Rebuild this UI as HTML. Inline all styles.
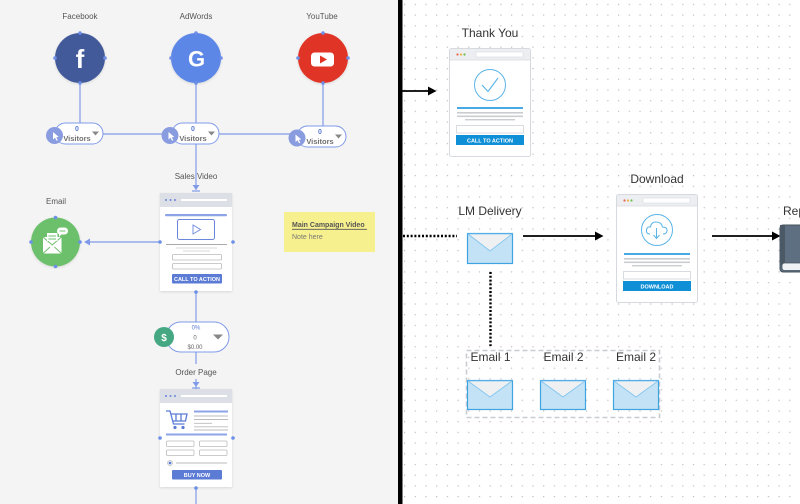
<!DOCTYPE html>
<html><head><meta charset="utf-8">
<style>
html,body{margin:0;padding:0;width:800px;height:504px;overflow:hidden;background:#fff;}
svg{display:block;}
text{font-family:"Liberation Sans",Arial,sans-serif;}
</style></head>
<body>
<svg width="800" height="504" viewBox="0 0 800 504" xmlns="http://www.w3.org/2000/svg">
<defs>
<pattern id="dots" x="404" y="68" width="10.7" height="10.7" patternUnits="userSpaceOnUse">
<circle cx="0.6" cy="0.6" r="0.7" fill="#bdbdbd"/>
</pattern>
<filter id="sh" x="-20%" y="-20%" width="140%" height="140%"><feDropShadow dx="0" dy="1" stdDeviation="1.2" flood-color="#000" flood-opacity="0.12"/></filter>
</defs>

<!-- backgrounds -->
<rect x="0" y="0" width="398" height="504" fill="#f4f4f4"/>
<rect x="402" y="0" width="398" height="504" fill="#fff"/>
<rect x="402" y="0" width="398" height="504" fill="url(#dots)"/>
<rect x="398" y="0" width="4.5" height="504" fill="#000"/>

<!-- ===== LEFT PANEL ===== -->
<g stroke="#7f9ae8" stroke-width="1.2" fill="none">
<line x1="80" y1="83" x2="80" y2="123"/>
<line x1="323" y1="83" x2="323" y2="126"/>
<line x1="196" y1="83" x2="196" y2="190"/>
<line x1="103" y1="134" x2="172" y2="134"/>
<line x1="219" y1="134" x2="297" y2="134"/>
<line x1="196" y1="291" x2="196" y2="322"/>
<line x1="196" y1="352" x2="196" y2="364"/>
<line x1="196" y1="379" x2="196" y2="389"/>
<line x1="196" y1="487" x2="196" y2="504"/>
<line x1="160" y1="242" x2="90" y2="242"/>
</g>
<!-- small end markers -->
<path d="M192.5 185 L199.5 185 L196 190 Z" fill="#7f9ae8"/>
<line x1="192" y1="191" x2="200" y2="191" stroke="#7f9ae8" stroke-width="1.2"/>
<path d="M192.5 382 L199.5 382 L196 387 Z" fill="#7f9ae8"/>
<line x1="192" y1="388" x2="200" y2="388" stroke="#7f9ae8" stroke-width="1.2"/>
<path d="M84 242 L90 238.5 L90 245.5 Z" fill="#7f9ae8"/>

<!-- labels -->
<g font-size="8" fill="#555" text-anchor="middle">
<text x="80" y="19">Facebook</text>
<text x="196" y="19">AdWords</text>
<text x="322" y="19">YouTube</text>
<text x="196" y="179">Sales Video</text>
<text x="56" y="204">Email</text>
<text x="196" y="375">Order Page</text>
</g>

<!-- Facebook -->
<circle cx="80" cy="58" r="25" fill="#425a9a" filter="url(#sh)"/>
<text x="80" y="68" font-size="26" font-weight="bold" fill="#fff" text-anchor="middle">f</text>
<!-- AdWords -->
<circle cx="196" cy="58" r="25" fill="#5b87e6" filter="url(#sh)"/>
<text x="196.5" y="66.5" font-size="22" font-weight="bold" fill="#fff" text-anchor="middle">G</text>
<!-- YouTube -->
<circle cx="323" cy="58" r="25" fill="#e03426" filter="url(#sh)"/>
<rect x="311" y="52.5" width="23" height="14" rx="3.5" fill="#fff"/>
<path d="M320 55.5 L327 59.5 L320 63.5 Z" fill="#e03426"/>
<!-- circle handles -->
<g fill="#6d8fe8">
<circle cx="80" cy="33" r="1.8"/><circle cx="80" cy="83" r="1.8"/><circle cx="55" cy="58" r="1.8"/><circle cx="105" cy="58" r="1.8"/>
<circle cx="196" cy="33" r="1.8"/><circle cx="196" cy="83" r="1.8"/><circle cx="171" cy="58" r="1.8"/><circle cx="221" cy="58" r="1.8"/>
<circle cx="323" cy="33" r="1.8"/><circle cx="323" cy="83" r="1.8"/><circle cx="298" cy="58" r="1.8"/><circle cx="348" cy="58" r="1.8"/>
</g>

<!-- visitor pills -->
<g id="pills">
<rect x="55" y="123" width="48" height="21" rx="10.5" fill="#fff" stroke="#7f9ae8" stroke-width="1"/>
<circle cx="54.5" cy="135.5" r="8.5" fill="#8a9ce0"/>
<path d="M53 132 L53 139.5 L55 137.8 L56.6 140.8 L57.8 140.2 L56.3 137.2 L58.8 137 Z" fill="#fff"/>
<text x="77" y="131" font-size="7" font-weight="bold" fill="#5b7bd5" text-anchor="middle">0</text>
<text x="77" y="141" font-size="7.5" font-weight="bold" fill="#707070" text-anchor="middle">Visitors</text>
<path d="M92 131.5 L99 131.5 L95.5 135.5 Z" fill="#888"/>

<rect x="172" y="123" width="47" height="21" rx="10.5" fill="#fff" stroke="#7f9ae8" stroke-width="1"/>
<circle cx="170" cy="135.5" r="8.5" fill="#8a9ce0"/>
<path d="M168.5 132 L168.5 139.5 L170.5 137.8 L172.1 140.8 L173.3 140.2 L171.8 137.2 L174.3 137 Z" fill="#fff"/>
<text x="193" y="131" font-size="7" font-weight="bold" fill="#5b7bd5" text-anchor="middle">0</text>
<text x="193" y="141" font-size="7.5" font-weight="bold" fill="#707070" text-anchor="middle">Visitors</text>
<path d="M208 131.5 L215 131.5 L211.5 135.5 Z" fill="#888"/>

<rect x="297" y="126" width="49" height="21" rx="10.5" fill="#fff" stroke="#7f9ae8" stroke-width="1"/>
<circle cx="297" cy="138" r="8.5" fill="#8a9ce0"/>
<path d="M295.5 134.5 L295.5 142 L297.5 140.3 L299.1 143.3 L300.3 142.7 L298.8 139.7 L301.3 139.5 Z" fill="#fff"/>
<text x="320" y="134" font-size="7" font-weight="bold" fill="#5b7bd5" text-anchor="middle">0</text>
<text x="320" y="144" font-size="7.5" font-weight="bold" fill="#707070" text-anchor="middle">Visitors</text>
<path d="M335 134.5 L342 134.5 L338.5 138.5 Z" fill="#888"/>
</g>

<!-- Email circle -->
<circle cx="55.5" cy="242" r="24.5" fill="#6cc06c" filter="url(#sh)"/>
<rect x="43" y="237" width="18.5" height="16.5" fill="#fff"/>
<path d="M43 237 L52.2 245 L61.5 237" fill="none" stroke="#6cc06c" stroke-width="1"/>
<path d="M43 253.5 L50 247 M61.5 253.5 L54.5 247" stroke="#6cc06c" stroke-width="0.9"/>
<rect x="47" y="233" width="10.5" height="8" fill="#fff"/>
<line x1="48.5" y1="236" x2="56" y2="236" stroke="#6cc06c" stroke-width="1"/>
<line x1="48.5" y1="239" x2="56" y2="239" stroke="#6cc06c" stroke-width="1"/>
<rect x="57" y="227.5" width="11" height="7" rx="3.5" fill="#fff"/>
<path d="M59 234 L59 237 L62 234 Z" fill="#fff"/>
<line x1="59.5" y1="231" x2="65.5" y2="231" stroke="#6cc06c" stroke-width="1"/>
<g fill="#6d8fe8">
<circle cx="55.5" cy="217.5" r="1.8"/><circle cx="55.5" cy="266.5" r="1.8"/><circle cx="31" cy="242" r="1.8"/><circle cx="80" cy="242" r="1.8"/>
</g>

<!-- Sales Video page -->
<g filter="url(#sh)"><rect x="160" y="193" width="72" height="98" fill="#fff"/></g>
<rect x="160" y="193" width="72" height="14" fill="#dcdfe5"/>
<g fill="#6b86dc"><circle cx="166" cy="200" r="1"/><circle cx="170.5" cy="200" r="1"/><circle cx="175" cy="200" r="1"/></g>
<rect x="181" y="199" width="46" height="2" fill="#fff"/>
<rect x="165" y="214" width="62" height="2.3" rx="1" fill="#8ea4e8"/>
<rect x="177.5" y="219.5" width="37" height="20" rx="2" fill="none" stroke="#6c86dc" stroke-width="1"/>
<path d="M193 225 L200.5 229.5 L193 234 Z" fill="none" stroke="#6c86dc" stroke-width="0.9"/>
<line x1="166" y1="244.5" x2="227" y2="244.5" stroke="#aaa" stroke-width="0.9"/>
<line x1="176" y1="248" x2="217" y2="248" stroke="#ccc" stroke-width="0.8"/>
<line x1="183" y1="251" x2="210" y2="251" stroke="#ccc" stroke-width="0.8"/>
<rect x="172.5" y="254.5" width="49" height="5.5" rx="1" fill="#fff" stroke="#bbb" stroke-width="0.8"/>
<rect x="172.5" y="263.5" width="49" height="5.5" rx="1" fill="#fff" stroke="#bbb" stroke-width="0.8"/>
<rect x="172" y="274" width="50" height="9.5" rx="1" fill="#5b7bd5"/>
<text x="197" y="281" font-size="5.5" font-weight="bold" fill="#fff" text-anchor="middle">CALL TO ACTION</text>
<g fill="#6d8fe8"><circle cx="160" cy="242" r="1.8"/><circle cx="233" cy="242" r="1.8"/><circle cx="196" cy="292" r="1.8"/></g>

<!-- Money pill -->
<rect x="166" y="322" width="63" height="30" rx="15" fill="#fff" stroke="#7f9ae8" stroke-width="1"/>
<circle cx="164" cy="337" r="10" fill="#45a882"/>
<text x="164" y="341" font-size="10" font-weight="bold" fill="#fff" text-anchor="middle">$</text>
<text x="196" y="329.5" font-size="6" fill="#5b7bd5" text-anchor="middle">0%</text>
<text x="195" y="339.5" font-size="6" fill="#666" text-anchor="middle">0</text>
<text x="195" y="349" font-size="6" fill="#666" text-anchor="middle">$0.00</text>
<path d="M213 334.5 L223 334.5 L218 339.5 Z" fill="#888"/>

<!-- Order page -->
<g filter="url(#sh)"><rect x="160" y="389" width="72" height="98" fill="#fff"/></g>
<rect x="160" y="389" width="72" height="14" fill="#dcdfe5"/>
<g fill="#6b86dc"><circle cx="166" cy="396" r="1"/><circle cx="170.5" cy="396" r="1"/><circle cx="175" cy="396" r="1"/></g>
<rect x="181" y="395" width="46" height="2" fill="#fff"/>
<!-- cart -->
<g fill="none" stroke="#5b7bd5" stroke-width="1.3">
<path d="M166 411 L170 411 L173.5 424 L184.5 424"/>
<path d="M170.8 414 L187 414 L185.5 421 L172.7 421"/>
<line x1="176" y1="414" x2="176" y2="421"/><line x1="181" y1="414" x2="181" y2="421"/>
</g>
<circle cx="175" cy="427.5" r="1.6" fill="#5b7bd5"/><circle cx="183" cy="427.5" r="1.6" fill="#5b7bd5"/>
<rect x="194" y="410.5" width="34" height="2" fill="#8ea4e8"/>
<g stroke="#bbb" stroke-width="0.9">
<line x1="194" y1="416" x2="228" y2="416"/><line x1="194" y1="419.5" x2="228" y2="419.5"/>
<line x1="194" y1="423.3" x2="212" y2="423.3"/><line x1="194" y1="426.8" x2="228" y2="426.8"/>
<line x1="194" y1="430" x2="228" y2="430"/>
</g>
<rect x="166" y="433.5" width="61" height="2" fill="#8ea4e8"/>
<g fill="#fff" stroke="#bbb" stroke-width="0.8">
<rect x="166.5" y="441" width="27.5" height="5.5" rx="1"/><rect x="199.5" y="441" width="27.5" height="5.5" rx="1"/>
<rect x="166.5" y="450" width="27.5" height="5.5" rx="1"/><rect x="199.5" y="450" width="27.5" height="5.5" rx="1"/>
</g>
<circle cx="170" cy="463" r="2.5" fill="#fff" stroke="#bbb" stroke-width="0.7"/>
<circle cx="170" cy="463" r="1.4" fill="#5b7bd5"/>
<line x1="176" y1="463" x2="227" y2="463" stroke="#bbb" stroke-width="0.9"/>
<rect x="172" y="470" width="50" height="9.5" rx="1" fill="#5b7bd5"/>
<text x="197" y="477" font-size="5.5" font-weight="bold" fill="#fff" text-anchor="middle">BUY NOW</text>
<g fill="#6d8fe8"><circle cx="160" cy="438" r="1.8"/><circle cx="233" cy="438" r="1.8"/><circle cx="196" cy="488" r="1.8"/></g>

<!-- Note -->
<rect x="284" y="212" width="91" height="40" fill="#f7f08e"/>
<text x="292" y="227" font-size="7" font-weight="bold" fill="#555">Main Campaign Video</text>
<line x1="292" y1="229.3" x2="367" y2="229.3" stroke="#555" stroke-width="0.8"/>
<text x="292" y="239" font-size="7" fill="#777">Note here</text>

<!-- ===== RIGHT PANEL ===== -->
<!-- arrows -->
<line x1="402" y1="91" x2="430" y2="91" stroke="#000" stroke-width="1.8"/>
<path d="M428 86.5 L436.5 91 L428 95.5 Z" fill="#000"/>
<line x1="523" y1="236" x2="596" y2="236" stroke="#000" stroke-width="1.8"/>
<path d="M595 231.5 L603.5 236 L595 240.5 Z" fill="#000"/>
<line x1="712" y1="236" x2="773" y2="236" stroke="#000" stroke-width="1.8"/>
<path d="M772 231.5 L780.5 236 L772 240.5 Z" fill="#000"/>
<line x1="403" y1="236" x2="457" y2="236" stroke="#000" stroke-width="2.4" stroke-dasharray="2 1.8"/>
<line x1="490.5" y1="272" x2="490.5" y2="346" stroke="#000" stroke-width="2.4" stroke-dasharray="2 1.8"/>

<!-- right labels -->
<g font-size="12" fill="#333" text-anchor="middle">
<text x="490" y="37">Thank You</text>
<text x="490" y="215">LM Delivery</text>
<text x="657" y="183">Download</text>
<text x="490.5" y="361">Email 1</text>
<text x="563.5" y="361">Email 2</text>
<text x="636" y="361">Email 2</text>
</g>
<text x="783" y="215" font-size="12" fill="#333">Rep</text>

<!-- Thank You page -->
<rect x="449.5" y="48.5" width="81" height="108" rx="2" fill="#fff" stroke="#d6dadf" stroke-width="1"/>
<rect x="450" y="49" width="80" height="11" fill="#eceef1"/>
<line x1="450" y1="60" x2="530" y2="60" stroke="#d6dadf" stroke-width="0.8"/>
<circle cx="457.5" cy="54.5" r="1.1" fill="#e8664f"/><circle cx="461" cy="54.5" r="1.1" fill="#f0b43c"/><circle cx="464.5" cy="54.5" r="1.1" fill="#6cc04a"/>
<rect x="476" y="52" width="47" height="5" fill="#fff" stroke="#d6dadf" stroke-width="0.6"/>
<circle cx="490" cy="85" r="15.5" fill="none" stroke="#5ab4e8" stroke-width="1"/>
<path d="M482 85 L488 91.5 L498 78" fill="none" stroke="#5ab4e8" stroke-width="1.1"/>
<rect x="457" y="107" width="66" height="2" fill="#49a9e4"/>
<rect x="457" y="112" width="66" height="1.6" fill="#c9ccd1"/>
<rect x="457" y="115.5" width="66" height="1.6" fill="#c9ccd1"/>
<rect x="465" y="119" width="50" height="1.4" fill="#c9ccd1"/>
<rect x="456.5" y="125.5" width="67" height="7.5" fill="#fff" stroke="#cfd3d8" stroke-width="0.8"/>
<rect x="456" y="135" width="68" height="10" fill="#0e8fd6"/>
<text x="490" y="142.3" font-size="5.5" font-weight="bold" fill="#fff" text-anchor="middle" font-family="Liberation Serif,serif">CALL TO ACTION</text>

<!-- LM envelope -->
<rect x="467.5" y="233.5" width="45" height="30" fill="#c3e2f6" stroke="#3ea3e0" stroke-width="1.2"/>
<path d="M468 234 L490 251 L512 234 Z" fill="#eef0f2" stroke="#7cc2ee" stroke-width="0.8"/>

<!-- Download page -->
<rect x="616.5" y="194.5" width="81" height="108" rx="2" fill="#fff" stroke="#d6dadf" stroke-width="1"/>
<rect x="617" y="195" width="80" height="11" fill="#eceef1"/>
<line x1="617" y1="206" x2="697" y2="206" stroke="#d6dadf" stroke-width="0.8"/>
<circle cx="624.5" cy="200.5" r="1.1" fill="#e8664f"/><circle cx="628" cy="200.5" r="1.1" fill="#f0b43c"/><circle cx="631.5" cy="200.5" r="1.1" fill="#6cc04a"/>
<rect x="643" y="198" width="47" height="5" fill="#fff" stroke="#d6dadf" stroke-width="0.6"/>
<circle cx="657" cy="230" r="15.5" fill="none" stroke="#5ab4e8" stroke-width="1"/>
<path d="M650 234 Q646 234 646.5 230 Q647 226.5 650.5 227 Q651 222 656 222 Q661.5 222 662.5 227 Q667.5 227 667 231 Q666.5 234 663 234" fill="none" stroke="#5ab4e8" stroke-width="1"/>
<path d="M656.5 228 L656.5 238 M653.5 235 L656.5 238.5 L659.5 235" fill="none" stroke="#5ab4e8" stroke-width="1"/>
<rect x="624" y="253" width="66" height="2" fill="#49a9e4"/>
<rect x="624" y="258" width="66" height="1.6" fill="#c9ccd1"/>
<rect x="624" y="261.5" width="66" height="1.6" fill="#c9ccd1"/>
<rect x="632" y="265" width="50" height="1.4" fill="#c9ccd1"/>
<rect x="623.5" y="271.5" width="67" height="7.5" fill="#fff" stroke="#cfd3d8" stroke-width="0.8"/>
<rect x="623" y="281" width="68" height="10" fill="#0e8fd6"/>
<text x="657" y="288.3" font-size="5.5" font-weight="bold" fill="#fff" text-anchor="middle" font-family="Liberation Serif,serif">DOWNLOAD</text>

<!-- Report book -->
<rect x="780" y="225" width="24" height="47" rx="3" fill="#5d6f80" stroke="#46535f" stroke-width="1"/>
<rect x="780" y="225" width="5" height="40" fill="#4b5866"/>
<rect x="782" y="263" width="22" height="7.5" rx="2.5" fill="#eef2f6" stroke="#46535f" stroke-width="0.8"/>

<!-- Email group -->
<rect x="466.5" y="350.5" width="193" height="67" fill="none" stroke="#c8ccd1" stroke-width="1.6" stroke-dasharray="5 3"/>
<g>
<rect x="467.5" y="380.5" width="45" height="29" fill="#c3e2f6" stroke="#3ea3e0" stroke-width="1.2"/>
<path d="M468 381 L490 397 L512 381 Z" fill="#eef0f2" stroke="#7cc2ee" stroke-width="0.8"/>
<rect x="540.5" y="380.5" width="45" height="29" fill="#c3e2f6" stroke="#3ea3e0" stroke-width="1.2"/>
<path d="M541 381 L563 397 L585 381 Z" fill="#eef0f2" stroke="#7cc2ee" stroke-width="0.8"/>
<rect x="613.5" y="380.5" width="45" height="29" fill="#c3e2f6" stroke="#3ea3e0" stroke-width="1.2"/>
<path d="M614 381 L636 397 L658 381 Z" fill="#eef0f2" stroke="#7cc2ee" stroke-width="0.8"/>
</g>
</svg>
</body></html>
